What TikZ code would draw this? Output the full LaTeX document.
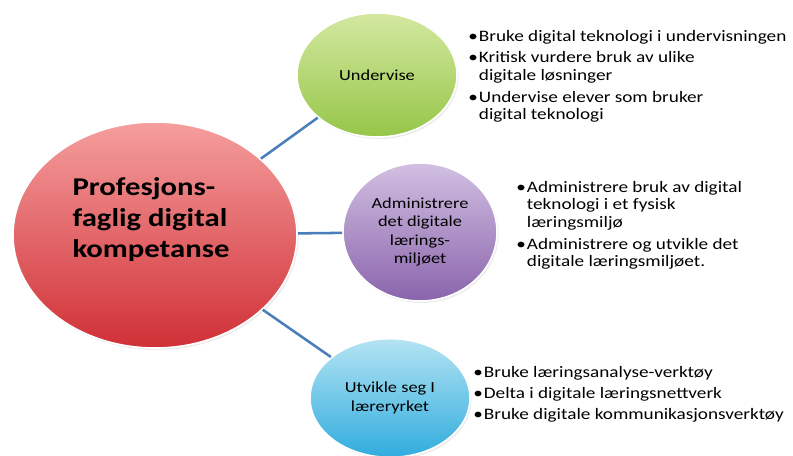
\documentclass[tikz,border=0pt]{standalone}
\usepackage{fontspec}
\setmainfont{Carlito}[FakeStretch=1.2]
\usepackage{tikz}
\usetikzlibrary{shapes.geometric,shadows}
\definecolor{linkBlue}{RGB}{74,126,187}
\newcommand{\bul}{\makebox[8pt][l]{\textbullet}}
\newcommand{\ind}{\hspace*{8pt}}
\tikzset{
  ball/.style={ellipse,draw=white,line width=1.2pt,inner sep=0pt,align=center,
        drop shadow={shadow xshift=1.2pt,shadow yshift=-1.5pt,opacity=.15},
        font=\fontsize{11.5}{13.9}\selectfont},
  bMain/.style={ball,minimum width=213pt,minimum height=169.5pt,
        top color={rgb,255:red,245;green,158;blue,158},
        bottom color={rgb,255:red,208;green,48;blue,54}},
  bGreen/.style={ball,minimum width=120pt,minimum height=93pt,
        top color={rgb,255:red,212;green,232;blue,160},
        bottom color={rgb,255:red,150;green,198;blue,72}},
  bPurple/.style={ball,minimum width=115.5pt,minimum height=103.5pt,
        top color={rgb,255:red,210;green,192;blue,226},
        bottom color={rgb,255:red,138;green,100;blue,172}},
  bBlue/.style={ball,minimum width=120pt,minimum height=89pt,
        top color={rgb,255:red,180;green,228;blue,243},
        bottom color={rgb,255:red,48;green,172;blue,222}},
  mainText/.style={align=left,inner sep=0pt,
        font=\fontsize{19.2}{23.25}\selectfont\bfseries},
  link/.style={draw=linkBlue,line width=1.9pt},
  bList/.style={anchor=north west,inner sep=0pt,align=left,
        font=\fontsize{12}{13.2}\selectfont},
}

\begin{document}
\begin{tikzpicture}[x=0.75pt,y=-0.75pt]
\useasboundingbox (0,0) rectangle (793,456);

% circles
\node[bMain]   (main) at (155,235) {};
\node[mainText] (mainTxt) at (151,220) {Profesjons-\\faglig digital\\kompetanse};
\node[bGreen]  (under) at (377,75)  {Undervise};
\node[bPurple] (admin) at (420,232) {Administrere\\det digitale\\lærings-\\miljøet};
\node[bBlue]   (utv)   at (390,398) {Utvikle seg I\\læreryrket};

\draw[link] (main) -- (under);
\draw[link] (main) -- (admin);
\draw[link] (main) -- (utv);

% lists
\node[bList] (underList) at (468,30) {\bul Bruke digital teknologi i undervisningen\\[3pt]
  \bul Kritisk vurdere bruk av ulike\\ \ind digitale løsninger\\[3pt]
  \bul Undervise elever som bruker\\ \ind digital teknologi};
\node[bList] (adminList) at (516,181) {\bul Administrere bruk av digital\\ \ind teknologi i et fysisk\\ \ind læringsmiljø\\[3pt]
  \bul Administrere og utvikle det\\ \ind digitale læringsmiljøet.};
\node[bList] (utvList) at (473,366) {\bul Bruke læringsanalyse-verktøy\\[2.5pt]
  \bul Delta i digitale læringsnettverk\\[2.5pt]
  \bul Bruke digitale kommunikasjonsverktøy};
\end{tikzpicture}
\end{document}
